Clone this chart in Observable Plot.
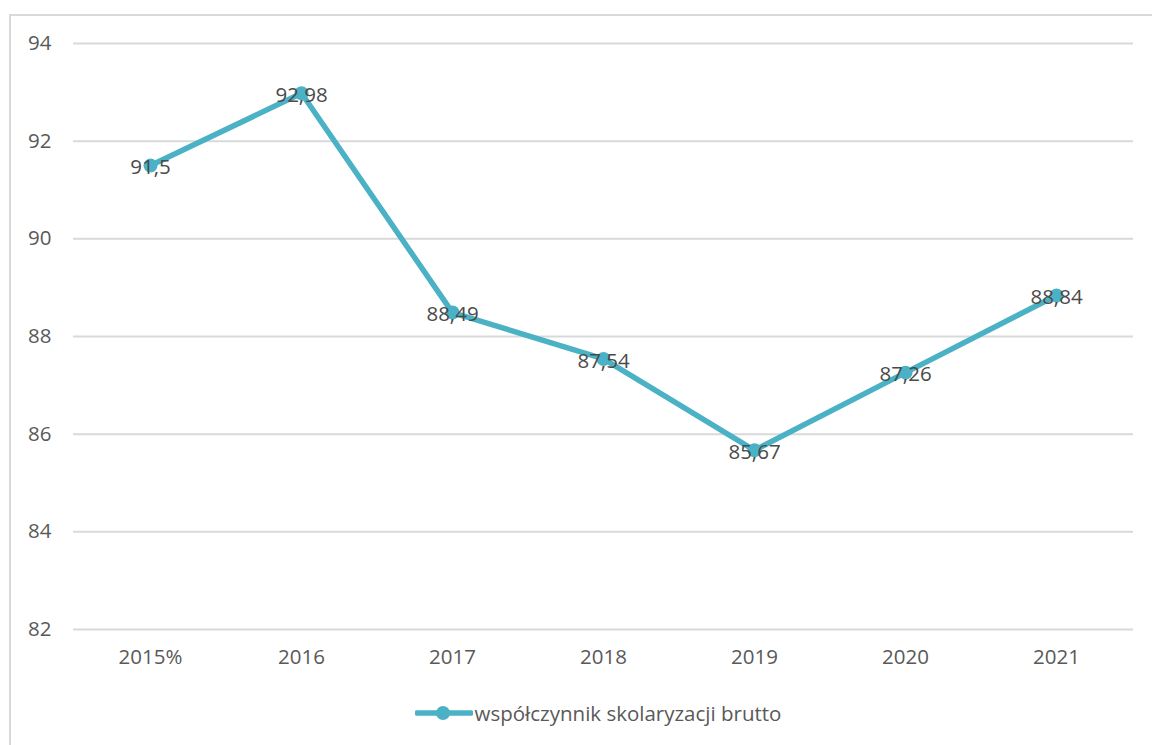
<!DOCTYPE html>
<html><head><meta charset="utf-8">
<script src="https://cdn.jsdelivr.net/npm/d3@7"></script>
<script src="https://cdn.jsdelivr.net/npm/@observablehq/plot@0.6"></script>
<style>
html,body{margin:0;padding:0;background:#fff;}
#wrap{position:relative;width:1152px;height:745px;overflow:hidden;font-family:"Open Sans",sans-serif;}
#frame{position:absolute;left:9px;top:14px;width:1160px;height:760px;border-left:2px solid #d9d9d9;border-top:2px solid #d9d9d9;box-sizing:border-box;}
#chart{position:absolute;left:0;top:0;}
#legend{position:absolute;left:22px;top:690px;width:1152px;height:45px;display:flex;justify-content:center;align-items:center;font-size:20.5px;color:#595959;}
#legend svg{margin-right:2px;}
</style></head>
<body><div id="wrap"><div id="frame"></div><div id="chart"></div><div id="legend"></div></div>
<script>
const years = ["2015", "2016", "2017", "2018", "2019", "2020", "2021"];
const tickLabels = ["2015%", "2016", "2017", "2018", "2019", "2020", "2021"];
const values = [91.5, 92.98, 88.49, 87.54, 85.67, 87.26, 88.84];
const valueLabels = ["91,5", "92,98", "88,49", "87,54", "85,67", "87,26", "88,84"];
const yTicks = [82, 84, 86, 88, 90, 92, 94];
const seriesName = "współczynnik skolaryzacji brutto";
const color = "#4bb2c6";

const data = years.map((y, i) => ({year: y, value: values[i], label: valueLabels[i]}));

const chart = Plot.plot({
  width: 1152, height: 690,
  marginLeft: 73, marginRight: 19, marginTop: 43, marginBottom: 61,
  style: {fontFamily: "'Open Sans', sans-serif", fontSize: "20px", color: "#595959", background: "transparent"},
  x: {type: "point", domain: years, padding: 0.5, label: null},
  y: {domain: [82, 94], ticks: yTicks, label: null},
  marks: [
    Plot.gridY(yTicks, {stroke: "#d9d9d9", strokeOpacity: 1, strokeWidth: 2}),
    Plot.axisY({ticks: yTicks, tickSize: 0, tickPadding: 22, fill: "#595959", fontSize: 20.5, label: null}),
    Plot.axisX({tickSize: 0, tickPadding: 20, fill: "#595959", fontSize: 20.5, label: null,
      tickFormat: (d) => tickLabels[years.indexOf(d)]}),
    Plot.line(data, {x: "year", y: "value", stroke: color, strokeWidth: 5.5, strokeLinejoin: "round"}),
    Plot.dot(data, {x: "year", y: "value", fill: color, r: 7, stroke: null}),
    Plot.text(data, {x: "year", y: "value", text: "label", fill: "#4a4a4a", fontSize: 20.5, dy: 2})
  ]
});
document.getElementById("chart").appendChild(chart);

const legend = document.getElementById("legend");
legend.innerHTML = `<svg width="58" height="20"><line x1="2" y1="10" x2="56" y2="10" stroke="${color}" stroke-width="5.5" stroke-linecap="round"/><circle cx="28" cy="10" r="7" fill="${color}"/></svg><span></span>`;
legend.querySelector("span").textContent = seriesName;
</script></body></html>
